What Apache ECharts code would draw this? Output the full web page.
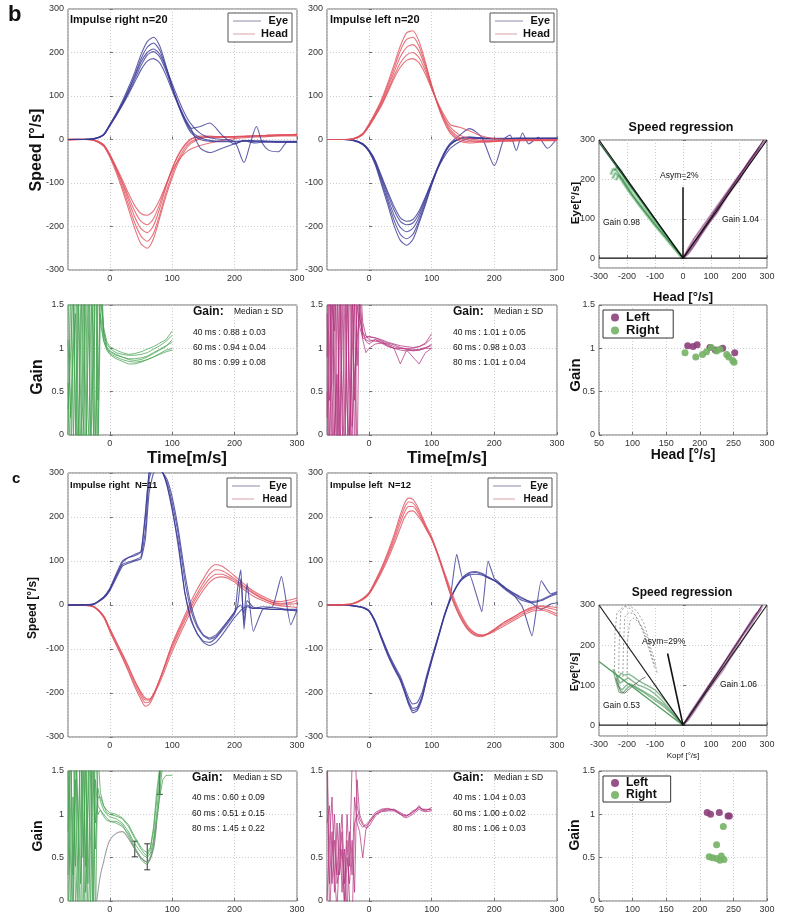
<!DOCTYPE html>
<html>
<head>
<meta charset="utf-8">
<script src="https://cdn.jsdelivr.net/npm/echarts@6/dist/echarts.min.js"></script>
<style>
  html, body { margin: 0; padding: 0; background: #fff; }
  #chart { width: 795px; height: 914px; }
</style>
</head>
<body>
<div id="chart"></div>
<script>
// time samples (ms) for the speed traces
const T_B = [-67,-40,-25,-10,0,10,20,30,40,50,60,70,80,90,100,110,120,130,145,160,180,200,215,225,235,245,255,270,285,300];
const T_C = [-67,-40,-25,-10,0,10,20,30,40,50,57,63,70,77,85,92,100,110,120,130,140,150,160,170,180,190,200,205,210,215,220,230,245,260,275,290,300];

// b: impulse right n=20
const bR_head = [
  [0,0,-2,-15,-40,-75,-115,-160,-205,-240,-250,-228,-180,-130,-88,-52,-26,-9,2,6,6,6,7,8,8,9,10,10,11,12],
  [0,1,-2,-14,-38,-70,-108,-150,-192,-222,-234,-216,-172,-122,-80,-45,-20,-5,4,7,6,7,8,8,9,9,10,11,11,12],
  [-2,0,-1,-12,-35,-66,-100,-140,-178,-205,-214,-198,-158,-110,-68,-36,-14,0,8,8,6,6,7,8,8,9,9,10,10,10],
  [0,0,-2,-13,-36,-66,-98,-132,-165,-188,-196,-182,-148,-105,-66,-34,-12,2,6,5,5,6,6,7,8,8,8,9,10,10],
  [1,0,-1,-12,-34,-62,-92,-124,-152,-170,-174,-164,-138,-104,-72,-48,-32,-22,-14,-8,-2,2,4,5,6,6,7,8,8,8]
];
const bR_eye = [
  [0,0,2,12,35,60,88,120,155,195,225,235,215,170,122,78,42,16,0,-4,-5,-5,-4,-4,-5,-5,-5,-6,-6,-6],
  [0,0,2,11,33,57,84,114,148,185,212,222,205,165,120,80,46,20,4,-2,-4,-4,-3,-3,-4,-4,-4,-5,-5,-5],
  [0,1,2,10,32,55,80,108,138,170,194,202,190,158,118,82,50,25,-20,-30,-20,-10,-3,-2,-3,-3,-4,-4,-4,-4],
  [0,0,1,10,31,54,78,104,132,160,180,186,176,148,112,78,48,26,30,38,10,-10,-2,-6,-8,-6,-6,-6,-6,-6],
  [0,0,2,11,33,56,82,112,144,178,200,208,196,165,128,92,60,36,14,4,0,-5,-53,-10,30,-10,-25,-28,-5,-5]
];
// b: impulse left n=20
const bL_head = [
  [0,0,2,14,36,62,92,130,172,215,245,250,225,178,125,78,40,14,-4,-8,-6,-5,-4,-4,-3,-3,-3,-3,-3,-3],
  [0,0,2,13,34,60,88,124,164,204,230,235,214,172,124,80,44,18,0,-5,-5,-4,-3,-3,-3,-2,-2,-2,-2,-2],
  [0,0,1,12,32,57,84,118,155,190,212,218,202,166,122,82,48,22,4,-2,-4,-4,-3,-3,-2,-2,-2,-2,-2,-2],
  [0,0,1,12,31,55,80,112,146,176,194,200,188,158,118,80,50,28,10,2,-2,-2,-2,-2,-1,-1,-1,-1,-1,-1],
  [0,0,1,11,30,53,78,108,140,166,182,186,176,150,116,84,56,34,28,20,8,2,1,0,0,0,0,0,0,0]
];
const bL_eye = [
  [0,0,-3,-12,-28,-58,-104,-150,-198,-232,-243,-230,-192,-150,-105,-65,-32,-10,2,4,4,3,3,3,3,3,3,3,3,3],
  [0,0,-2,-11,-27,-55,-98,-142,-186,-218,-228,-218,-186,-146,-104,-66,-34,-12,2,6,3,2,2,2,2,3,3,3,3,3],
  [0,0,-2,-10,-26,-52,-92,-134,-174,-202,-212,-204,-178,-140,-100,-64,-34,-12,2,4,2,1,2,2,3,3,3,3,3,3],
  [0,0,-1,-10,-25,-50,-88,-126,-162,-188,-196,-192,-170,-135,-98,-62,-30,-8,10,25,5,-60,0,10,-25,15,-10,5,-20,3],
  [0,0,-1,-9,-24,-48,-84,-120,-154,-180,-188,-184,-164,-132,-98,-66,-40,-20,-5,2,3,2,1,2,3,2,2,2,3,3]
];
// c: impulse right N=11
const cR_head = [
  [0,-1,-5,-28,-60,-90,-120,-152,-186,-215,-230,-226,-208,-182,-150,-120,-88,-55,-24,8,36,60,82,92,88,78,66,60,54,48,42,32,20,10,8,12,16],
  [0,-1,-5,-27,-58,-88,-117,-148,-180,-208,-222,-220,-204,-180,-150,-122,-92,-60,-30,0,26,50,70,80,78,70,60,54,48,43,38,28,16,6,4,6,10],
  [0,0,-4,-25,-55,-84,-112,-142,-174,-202,-216,-216,-202,-180,-152,-126,-98,-66,-36,-6,20,42,60,70,70,64,56,50,45,40,35,26,14,6,2,2,4],
  [0,0,-4,-24,-53,-82,-110,-140,-172,-198,-212,-214,-204,-186,-160,-134,-106,-74,-44,-14,12,34,52,62,64,60,52,46,40,35,30,20,10,2,-2,-4,-6]
];
const cR_eye = [
  [0,0,3,18,38,70,100,108,112,120,200,300,320,310,300,270,215,140,30,-35,-65,-82,-85,-75,-58,-40,-20,40,80,-55,0,-8,-8,-10,-10,-12,-14],
  [0,0,2,16,35,65,92,98,102,110,170,285,315,312,300,278,232,158,58,-12,-50,-70,-78,-72,-55,-35,-15,0,60,-40,10,-5,-8,-10,-10,-12,-12],
  [0,0,2,15,32,60,88,95,100,105,150,255,300,308,300,285,245,170,75,0,-45,-68,-75,-68,-52,-35,-18,-5,0,-20,50,-60,-10,-5,-8,-10,-10],
  [0,1,3,18,36,66,96,108,115,122,210,300,325,318,300,270,220,130,30,-30,-65,-85,-92,-85,-68,-48,-28,-20,-12,-6,-4,-8,-4,-5,65,-45,-12]
];
// c: impulse left N=12
const cL_head = [
  [0,1,4,15,28,55,85,120,160,205,232,243,240,225,200,178,155,115,70,25,-10,-38,-58,-68,-70,-64,-55,-50,-45,-40,-36,-28,-15,-5,-2,-4,-6],
  [0,1,4,14,27,52,82,115,153,196,222,234,232,218,195,174,150,112,68,24,-12,-40,-60,-70,-72,-66,-56,-50,-45,-40,-36,-28,-16,-7,-4,-8,-12],
  [0,0,3,13,26,50,78,110,146,186,212,224,224,212,192,172,150,114,72,30,-6,-34,-55,-66,-70,-66,-58,-53,-48,-44,-40,-32,-20,-10,-8,-14,-20],
  [0,0,3,12,24,47,74,104,138,175,200,212,214,205,188,170,150,116,76,36,0,-30,-52,-64,-68,-66,-60,-56,-52,-48,-44,-36,-24,-14,-12,-18,-25]
];
const cL_eye = [
  [0,0,-2,-6,-14,-40,-78,-115,-145,-172,-200,-225,-245,-240,-212,-170,-128,-78,-28,12,42,62,72,74,70,62,55,50,44,38,32,22,10,5,10,20,25],
  [0,0,-2,-5,-13,-38,-74,-110,-140,-168,-196,-222,-240,-236,-210,-168,-125,-75,-24,20,115,60,70,30,-15,100,60,55,48,42,36,26,14,8,12,22,28],
  [0,0,-2,-6,-14,-40,-76,-112,-142,-168,-195,-218,-235,-232,-205,-165,-124,-76,-26,14,44,64,74,76,72,64,56,52,46,40,34,24,-5,-70,55,25,30],
  [0,0,-1,-5,-12,-36,-72,-106,-136,-162,-188,-210,-225,-222,-198,-160,-120,-72,-24,14,42,60,68,70,68,62,56,52,47,42,37,28,16,4,-10,2,5]
];

// gain traces
const T_G = [-67,-63,-59,-55,-51,-47,-43,-39,-35,-31,-27,-23,-19,-15,-10,-5,0,10,20,30,40,50,60,70,80,90,100];
const bR_gain = [
  [1.1,0.3,-0.4,1.9,1.7,-0.2,0.4,2.1,2.3,0.1,-0.5,2.4,2.0,1.3,1.08,1.0,0.96,0.92,0.9,0.88,0.88,0.89,0.91,0.95,0.99,1.03,1.07],
  [0.0,1.6,2.2,0.2,-0.4,1.4,2.2,0.5,-0.6,1.1,2.6,0.0,-0.3,2.2,1.2,1.02,0.97,0.93,0.9,0.87,0.86,0.87,0.9,0.94,0.98,1.02,1.1],
  [0.6,-0.3,1.2,2.5,0.3,-0.3,1.6,1.9,0.2,-0.4,1.8,2.4,0.4,1.8,1.15,1.0,0.94,0.9,0.87,0.85,0.84,0.85,0.87,0.9,0.94,0.98,1.0],
  [1.5,1.9,0.1,-0.5,1.3,2.4,0.3,-0.4,1.7,2.3,0.2,-0.5,2.1,1.6,1.2,1.05,1.0,0.95,0.93,0.92,0.92,0.93,0.95,0.99,1.03,1.08,1.15],
  [0.3,0.9,1.7,0.0,2.0,0.5,-0.2,1.3,2.6,-0.3,0.8,2.0,-0.2,1.4,1.1,0.98,0.93,0.88,0.85,0.82,0.82,0.84,0.87,0.9,0.93,0.96,0.98],
  [2.0,0.2,0.9,1.4,-0.3,1.0,2.3,-0.5,0.9,2.0,1.2,-0.4,1.5,1.7,1.25,1.08,1.02,0.98,0.95,0.93,0.94,0.96,0.99,1.02,1.06,1.1,1.2]
];
const bL_gain = [
  [0.2,1.8,0.5,-0.3,1.6,2.2,0.1,-0.4,1.9,0.6,-0.2,1.7,2.0,1.35,1.18,1.14,1.13,1.12,1.1,1.07,1.05,1.03,1.02,1.01,1.02,1.05,1.12],
  [1.4,-0.2,2.0,0.8,-0.4,1.2,2.4,0.3,-0.5,1.8,2.1,-0.3,1.5,1.25,1.12,1.1,1.08,1.1,1.08,1.04,1.0,0.98,0.97,0.98,0.99,1.01,1.03],
  [-0.3,1.0,2.3,0.0,0.7,-0.3,1.8,2.0,0.3,-0.5,1.4,2.3,0.8,1.6,1.2,1.08,1.05,1.1,1.06,1.02,1.0,0.82,0.98,0.9,0.82,0.95,1.0],
  [0.9,2.1,-0.4,1.5,2.2,0.2,-0.3,1.4,2.3,0.0,0.9,1.6,-0.4,1.9,1.3,1.15,1.1,1.08,1.07,1.03,1.0,1.0,0.99,0.98,0.98,1.0,1.0],
  [1.9,0.4,0.6,2.4,-0.2,1.7,0.6,-0.3,1.2,2.5,0.1,0.7,1.1,1.4,1.1,0.95,1.0,1.05,1.06,1.05,1.02,1.0,1.0,1.0,1.02,1.06,1.17],
  [0.5,-0.4,1.5,1.2,1.9,-0.2,1.0,2.6,0.4,-0.2,1.9,0.4,1.6,1.5,1.15,1.12,1.14,1.12,1.09,1.06,1.04,1.01,0.99,0.97,0.98,1.0,1.05]
];
const T_GC = [-67,-63,-59,-55,-51,-47,-43,-39,-35,-31,-27,-23,-19,-15,-10,-5,0,10,20,30,40,50,55,60,65,70,75,80,85,90,100];
const cR_gain = [
  [0.3,1.8,0.0,2.2,0.8,-0.3,1.7,0.4,2.3,-0.2,1.5,0.6,1.3,1.15,1.05,1.0,0.97,0.95,0.9,0.8,0.66,0.56,0.52,0.5,0.55,0.7,1.0,1.4,1.7,2.0,2.3],
  [1.6,-0.2,1.2,0.4,2.4,1.0,-0.4,2.0,0.2,1.4,2.2,-0.3,1.7,1.25,1.1,1.02,1.0,0.98,0.95,0.86,0.72,0.6,0.55,0.52,0.6,0.8,1.15,1.5,1.8,2.1,2.4],
  [-0.3,1.0,2.3,-0.1,0.6,1.9,0.9,-0.4,1.3,2.4,0.0,1.9,1.1,1.05,0.98,0.93,0.92,0.92,0.88,0.75,0.6,0.48,0.44,0.42,0.48,0.62,0.9,1.25,1.6,1.9,2.2],
  [0.8,2.0,0.3,1.4,-0.2,2.2,0.5,1.6,-0.3,0.7,2.0,0.9,1.2,1.2,1.1,1.05,1.02,1.0,0.96,0.88,0.74,0.62,0.58,0.56,0.62,0.85,1.25,1.55,1.9,2.1,2.5],
  [2.1,0.5,-0.3,1.7,1.1,0.2,2.3,0.1,1.1,1.8,-0.4,1.4,1.0,1.05,1.0,0.96,0.92,0.9,0.86,0.78,0.62,0.5,0.46,0.45,0.5,0.66,0.92,1.2,1.4,1.45,1.45]
];
const cR_greyT = [-21,-15,-10,-5,0,10,20,30,40,50,60,70,75];
const cR_grey = [0,0.3,0.45,0.6,0.7,0.78,0.8,0.72,0.6,0.5,0.45,0.6,0.9];
const cR_errT = [40,60,80];
const cR_median = [0.60,0.51,1.45];
const cR_sd = [0.09,0.15,0.22];
const cL_gain = [
  [1.6,0.2,0.8,0.1,0.9,0.3,0.6,0.0,1.0,0.4,1.6,2.0,1.1,0.95,0.88,0.84,0.86,0.98,1.04,1.05,1.06,1.02,1.0,0.99,1.0,1.02,1.05,1.08,1.06,1.05,1.06],
  [0.9,1.1,0.2,0.7,0.3,0.9,0.1,0.6,-0.2,0.8,0.3,1.2,0.9,0.8,0.5,0.82,0.9,1.0,1.03,1.04,1.04,1.0,0.97,0.96,0.98,1.0,1.03,1.06,1.04,1.03,1.04],
  [0.0,0.7,1.2,0.3,-0.1,0.6,1.0,0.2,0.7,0.0,-0.3,0.9,1.0,0.9,0.85,0.88,0.92,1.02,1.06,1.07,1.05,1.0,0.98,0.98,1.01,1.04,1.06,1.1,1.05,1.04,1.08],
  [2.0,-0.2,0.5,1.0,0.2,0.4,0.8,-0.2,0.5,0.2,0.7,0.1,1.4,1.0,0.9,0.86,0.9,1.0,1.05,1.06,1.05,1.01,0.99,0.98,1.0,1.03,1.05,1.08,1.06,1.06,1.05]
];

// speed regression: [head, eye] pairs
const regUnity = [[-300,300],[0,0],[300,300]];
const regZero = [[-300,0],[300,0]];
const bReg_green = [
  [[-258,212],[-250,226],[-238,224],[-222,206],[-205,186],[-185,164],[-165,144],[-145,125],[-125,107],[-105,89],[-85,72],[-65,55],[-45,38],[-25,21],[0,0]],
  [[-252,202],[-242,216],[-228,208],[-212,190],[-195,172],[-175,154],[-155,136],[-135,117],[-115,98],[-95,80],[-75,63],[-55,46],[-35,29],[-15,12],[0,0]],
  [[-245,222],[-235,232],[-222,222],[-206,202],[-190,182],[-170,164],[-150,144],[-130,124],[-110,104],[-90,85],[-70,66],[-50,47],[-30,28],[-10,9],[0,0]],
  [[-240,198],[-230,210],[-215,200],[-200,182],[-182,162],[-162,142],[-142,124],[-122,106],[-102,88],[-82,71],[-62,54],[-42,36],[-22,19],[0,0]]
];
const bReg_greenFit = [[-300,294],[0,0]];
const bReg_purple = [
  [[0,0],[20,12],[40,32],[60,55],[80,76],[100,96],[120,114],[140,138],[160,160],[180,180],[200,198],[220,222],[240,244],[260,266],[280,286],[295,300]],
  [[0,0],[20,26],[40,50],[60,70],[80,90],[100,110],[120,130],[140,150],[160,170],[180,190],[200,210],[220,228],[240,250],[260,268],[275,282]],
  [[0,0],[25,20],[50,44],[75,72],[100,98],[125,122],[150,150],[175,178],[200,204],[225,232],[250,258],[270,276]]
];
const bReg_purpleFit = [[0,0],[288,300]];
const bReg_asym = [[0,0],[0,180]];

const cReg_green = [
  [[-245,135],[-235,120],[-225,105],[-210,112],[-195,118],[-180,110],[-160,100],[-140,95],[-120,88],[-100,78],[-80,65],[-60,50],[-40,34],[-20,16],[0,0]],
  [[-238,128],[-228,96],[-218,88],[-205,98],[-190,104],[-170,96],[-150,88],[-130,80],[-110,72],[-90,62],[-70,52],[-50,38],[-30,24],[-10,8],[0,0]],
  [[-230,118],[-222,130],[-210,125],[-195,128],[-180,122],[-160,112],[-140,104],[-120,96],[-100,88],[-80,74],[-60,58],[-40,40],[-20,20],[0,0]],
  [[-250,140],[-240,110],[-228,82],[-215,80],[-200,92],[-185,100],[-165,92],[-145,84],[-125,74],[-105,64],[-85,55],[-65,44],[-45,32],[-25,18],[0,0]]
];
const cReg_grey = [[-240,118],[-232,100],[-222,84],[-208,80],[-192,90],[-176,100],[-160,108],[-146,116],[-134,120]];
const cReg_dotted = [
  [[-230,120],[-228,200],[-222,285],[-205,296],[-185,290],[-160,262],[-135,220],[-115,175],[-100,140]],
  [[-215,110],[-213,190],[-208,270],[-192,282],[-170,275],[-145,240],[-120,195],[-102,150]],
  [[-245,135],[-243,230],[-236,280],[-220,292],[-195,300],[-165,285],[-140,255],[-118,205]],
  [[-200,120],[-198,210],[-190,260],[-175,268],[-150,250],[-125,215],[-105,170],[-92,130]]
];
const cReg_greenFit = [[-300,159],[0,0]];
const cReg_purple = [
  [[0,0],[25,22],[50,50],[75,76],[100,104],[125,130],[150,158],[175,182],[200,210],[225,238],[250,262],[270,282],[285,298]],
  [[0,0],[25,30],[50,56],[75,82],[100,108],[125,134],[150,160],[175,188],[200,214],[225,240],[250,268],[265,282]],
  [[0,0],[30,26],[60,60],[90,94],[120,124],[150,150],[180,186],[210,220],[240,248],[260,270],[280,290]],
  [[0,0],[20,14],[50,44],[80,76],[110,106],[140,134],[170,168],[200,198],[230,230],[255,256]]
];
const cReg_purpleFit = [[0,0],[283,300]];
const cReg_asym = [[0,0],[-55,179]];

// gain vs head speed
const bScat_left = [[182,1.03],[190,1.02],[196,1.04],[215,1.01],[223,0.98],[234,1.0],[252,0.95]];
const bScat_right = [[178,0.95],[194,0.90],[204,0.93],[210,0.96],[217,1.01],[225,0.97],[230,0.99],[240,0.93],[243,0.90],[249,0.86],[251,0.84]];
const cScat_left = [[211,1.02],[216,1.0],[229,1.02],[242,0.98],[244,0.98]];
const cScat_right = [[235,0.86],[225,0.65],[214,0.51],[219,0.5],[225,0.49],[232,0.52],[236,0.48],[230,0.47]];

const FONT = '"Liberation Sans", Arial, sans-serif';
const EYE = '#3a3a96';
const HEAD = '#e0505c';
const GREEN = '#44a150';
const MAGENTA = '#b3357f';

// panel boxes: left, top, width, height
const GRIDS = [
  [68, 9, 229, 261], [327, 9, 230, 261], [599, 140, 168, 128],
  [68, 305, 229, 130], [327, 305, 230, 130], [599, 305, 168, 130],
  [68, 473, 229, 264], [327, 473, 230, 264], [599, 605, 168, 131],
  [68, 771, 229, 132], [327, 771, 230, 132], [599, 771, 168, 132]
];

const chart = echarts.init(document.getElementById('chart'));

function axis(gi, range, hideMin) {
  return Object.assign({
    type: 'value',
    gridIndex: gi,
    axisLine: { show: false },
    axisTick: { show: true, inside: true, length: 3, lineStyle: { color: '#6f6f6f' } },
    splitLine: { show: true, lineStyle: { color: '#cdcdcd', type: [1, 2] } },
    axisLabel: { fontSize: 9, color: '#333', margin: 4, fontFamily: FONT, showMinLabel: !hideMin }
  }, range);
}

const timeX = gi => axis(gi, { min: -67, max: 300, splitNumber: 3 }, true);
const speedY = gi => axis(gi, { min: -300, max: 300, interval: 100 });
const gainY = gi => axis(gi, { min: 0, max: 1.5, interval: 0.5 });
const regX = gi => axis(gi, { min: -300, max: 300, interval: 100 });
const regY = (gi, lo) => axis(gi, { min: lo, max: 300, splitNumber: 3 }, true);
const headX = gi => axis(gi, { min: 50, max: 300, interval: 50 });

const xAxis = [timeX(0), timeX(1), regX(2), timeX(3), timeX(4), headX(5),
               timeX(6), timeX(7), regX(8), timeX(9), timeX(10), headX(11)];
const yAxis = [speedY(0), speedY(1), regY(2, -25), gainY(3), gainY(4), gainY(5),
               speedY(6), speedY(7), regY(8, -27), gainY(9), gainY(10), gainY(11)];

function traces(ax, t, list, color, opts) {
  return list.map(v => Object.assign({
    type: 'line', xAxisIndex: ax, yAxisIndex: ax,
    data: t.map((x, i) => [x, v[i]]),
    showSymbol: false, symbol: 'none', smooth: 0.25, silent: true, clip: true,
    lineStyle: { color: color, width: 1.1, opacity: 0.8 }
  }, opts || {}));
}
function paths(ax, list, color, width, opacity, extra) {
  return list.map(d => Object.assign({
    type: 'line', xAxisIndex: ax, yAxisIndex: ax, data: d,
    showSymbol: false, symbol: 'none', silent: true, clip: true,
    lineStyle: { color: color, width: width, opacity: opacity }
  }, extra || {}));
}

const series = [];
const add = arr => arr.forEach(s => series.push(s));
const gainStyle = c => ({ smooth: false, lineStyle: { color: c, width: 1, opacity: 0.75 } });

add(traces(0, T_B, bR_head, HEAD));
add(traces(0, T_B, bR_eye, EYE));
add(traces(1, T_B, bL_eye, EYE));
add(traces(1, T_B, bL_head, HEAD));
add(traces(6, T_C, cR_head, HEAD));
add(traces(6, T_C, cR_eye, EYE, { smooth: 0.15 }));
add(traces(7, T_C, cL_eye, EYE, { smooth: 0.15 }));
add(traces(7, T_C, cL_head, HEAD));

add(traces(3, T_G, bR_gain, GREEN, gainStyle(GREEN)));
add(traces(4, T_G, bL_gain, MAGENTA, gainStyle(MAGENTA)));
add(traces(9, T_GC, cR_gain, GREEN, gainStyle(GREEN)));
add(traces(9, cR_greyT, [cR_grey], '#8a8a8a', { smooth: 0.3 }));
add(traces(10, T_GC, cL_gain, MAGENTA, gainStyle(MAGENTA)));

series.push({
  type: 'custom', xAxisIndex: 9, yAxisIndex: 9, silent: true, clip: true,
  data: cR_errT.map((t, i) => [t, cR_median[i] - cR_sd[i], cR_median[i] + cR_sd[i]]),
  renderItem: (params, api) => {
    const lo = api.coord([api.value(0), api.value(1)]);
    const hi = api.coord([api.value(0), api.value(2)]);
    const st = { stroke: '#333', lineWidth: 1 };
    return { type: 'group', children: [
      { type: 'line', shape: { x1: lo[0], y1: lo[1], x2: hi[0], y2: hi[1] }, style: st },
      { type: 'line', shape: { x1: lo[0] - 3, y1: lo[1], x2: lo[0] + 3, y2: lo[1] }, style: st },
      { type: 'line', shape: { x1: hi[0] - 3, y1: hi[1], x2: hi[0] + 3, y2: hi[1] }, style: st }
    ] };
  }
});

// regression b
add(paths(2, bReg_green, '#7cbf88', 3.2, 0.5));
add(paths(2, bReg_green, '#3f8a52', 0.8, 0.8));
add(paths(2, [bReg_greenFit], '#1d5a30', 1.2, 1));
add(paths(2, bReg_purple, '#b07aa8', 2.4, 0.55));
add(paths(2, bReg_purple, '#7a3a72', 0.8, 0.8));
add(paths(2, [bReg_purpleFit], '#5a2755', 1.2, 1));
add(paths(2, [regUnity, regZero], '#111', 1.2, 1));
add(paths(2, [bReg_asym], '#111', 1.5, 1));
// regression c
add(paths(8, cReg_dotted, '#888', 0.8, 0.9, { lineStyle: { color: '#888', width: 0.8, type: [2, 2] } }));
add(paths(8, cReg_green, '#5a9c68', 1.4, 0.7));
add(paths(8, [cReg_grey], '#555', 1, 0.8));
add(paths(8, [cReg_greenFit], '#4f9a5c', 1.3, 1));
add(paths(8, cReg_purple, '#9b5d95', 1.6, 0.65));
add(paths(8, [cReg_purpleFit], '#5a2755', 1.2, 1));
add(paths(8, [regUnity, regZero], '#222', 1.2, 1));
add(paths(8, [cReg_asym], '#111', 1.6, 1));

// gain vs head speed scatter
const scat = (ax, name, data, color) => ({
  type: 'scatter', name: name, xAxisIndex: ax, yAxisIndex: ax, data: data,
  symbolSize: 7, itemStyle: { color: color, opacity: 0.9 }, silent: true
});
series.push(scat(5, 'Left', bScat_left, '#8c3f7c'));
series.push(scat(5, 'Right', bScat_right, '#74b365'));
series.push(scat(11, 'Left', cScat_left, '#8c3f7c'));
series.push(scat(11, 'Right', cScat_right, '#74b365'));

const scatLegend = (top, fs) => ({
  data: ['Left', 'Right'], orient: 'vertical', left: 603, top: top,
  itemGap: 0, itemWidth: 8, itemHeight: 8, icon: 'circle',
  padding: [1, 14, 1, 8], borderColor: '#333', borderWidth: 1, backgroundColor: '#fff',
  selectedMode: false,
  textStyle: { fontSize: fs, fontWeight: 'bold', fontFamily: FONT, color: '#111', padding: [0, 0, 0, 2] }
});

function txt(text, x, y, size, weight, align, rot) {
  return {
    type: 'text', x: x, y: y, z: 100, rotation: rot || 0,
    style: {
      text: text, fill: '#111',
      font: (weight || 'normal') + ' ' + size + 'px ' + FONT,
      align: align || 'left', verticalAlign: 'middle',
      textAlign: align || 'left', textVerticalAlign: 'middle'
    }
  };
}
function legendBox(x, y, fs) {
  return [
    { type: 'rect', z: 100, shape: { x: x, y: y, width: 64, height: 29 }, style: { fill: '#fff', stroke: '#555', lineWidth: 1 } },
    { type: 'line', z: 101, shape: { x1: x + 5, y1: y + 8, x2: x + 33, y2: y + 8 }, style: { stroke: '#8a8aa8', lineWidth: 1 } },
    { type: 'line', z: 101, shape: { x1: x + 5, y1: y + 21, x2: x + 27, y2: y + 21 }, style: { stroke: '#d8a0a6', lineWidth: 1 } },
    txt('Eye', x + 60, y + 8, fs, 'bold', 'right'),
    txt('Head', x + 60, y + 21, fs, 'bold', 'right')
  ];
}
function gainText(x, y0, lines, step) {
  return [
    txt('Gain:', x, y0, 12, 'bold'),
    txt('Median \u00b1 SD', x + 41, y0, 8.5),
    txt(lines[0], x, y0 + step[0], 8.5),
    txt(lines[1], x, y0 + step[1], 8.5),
    txt(lines[2], x, y0 + step[2], 8.5)
  ];
}
const UP = Math.PI / 2;

const graphic = [].concat(
  [txt('b', 8, 15, 22, 'bold'),
   txt('Impulse right n=20', 70, 20, 11, 'bold'),
   txt('Impulse left n=20', 330, 20, 11, 'bold'),
   txt('Speed [\u00b0/s]', 37, 150, 16, 'bold', 'center', UP),
   txt('Speed regression', 681, 128, 12.5, 'bold', 'center'),
   txt('Asym=2%', 660, 176, 8.5),
   txt('Gain 0.98', 603, 223, 8.5),
   txt('Gain 1.04', 722, 220, 8.5),
   txt('Eye[\u00b0/s]', 576, 203, 11.5, 'bold', 'center', UP),
   txt('Head [\u00b0/s]', 683, 297, 13, 'bold', 'center'),
   txt('Gain', 38, 377, 16, 'bold', 'center', UP),
   txt('Time[m/s]', 187, 458, 17, 'bold', 'center'),
   txt('Time[m/s]', 447, 458, 17, 'bold', 'center'),
   txt('Gain', 576, 375, 15, 'bold', 'center', UP),
   txt('Head [\u00b0/s]', 683, 455, 14, 'bold', 'center'),
   txt('c', 12, 479, 15, 'bold'),
   txt('Impulse right  N=11', 70, 485, 9.5, 'bold'),
   txt('Impulse left  N=12', 330, 485, 9.5, 'bold'),
   txt('Speed [\u00b0/s]', 33, 608, 12, 'bold', 'center', UP),
   txt('Speed regression', 682, 593, 12, 'bold', 'center'),
   txt('Asym=29%', 642, 642, 8.5),
   txt('Gain 0.53', 603, 706, 8.5),
   txt('Gain 1.06', 720, 685, 8.5),
   txt('Eye[\u00b0/s]', 575, 672, 10.5, 'bold', 'center', UP),
   txt('Kopf [\u00b0/s]', 683, 756, 8, 'normal', 'center'),
   txt('Gain', 38, 836, 14, 'bold', 'center', UP),
   txt('Gain', 575, 835, 14, 'bold', 'center', UP)],
  legendBox(228, 13, 11), legendBox(490, 13, 11),
  legendBox(227, 478, 10), legendBox(488, 478, 10),
  gainText(193, 312, ['40 ms : 0.88 \u00b1 0.03', '60 ms : 0.94 \u00b1 0.04', '80 ms : 0.99 \u00b1 0.08'], [21, 36, 51]),
  gainText(453, 312, ['40 ms : 1.01 \u00b1 0.05', '60 ms : 0.98 \u00b1 0.03', '80 ms : 1.01 \u00b1 0.04'], [21, 36, 51]),
  gainText(192, 778, ['40 ms : 0.60 \u00b1 0.09', '60 ms : 0.51 \u00b1 0.15', '80 ms : 1.45 \u00b1 0.22'], [20, 36, 51]),
  gainText(453, 778, ['40 ms : 1.04 \u00b1 0.03', '60 ms : 1.00 \u00b1 0.02', '80 ms : 1.06 \u00b1 0.03'], [20, 36, 51])
);

chart.setOption({
  backgroundColor: '#fff',
  animation: false,
  textStyle: { fontFamily: FONT },
  grid: GRIDS.map(g => ({ left: g[0], top: g[1], width: g[2], height: g[3],
    show: true, borderColor: '#6f6f6f', borderWidth: 1, backgroundColor: 'transparent' })),
  xAxis: xAxis,
  yAxis: yAxis,
  legend: [scatLegend(310, 13), scatLegend(776, 12)],
  series: series,
  graphic: graphic
});
</script>
</body>
</html>
